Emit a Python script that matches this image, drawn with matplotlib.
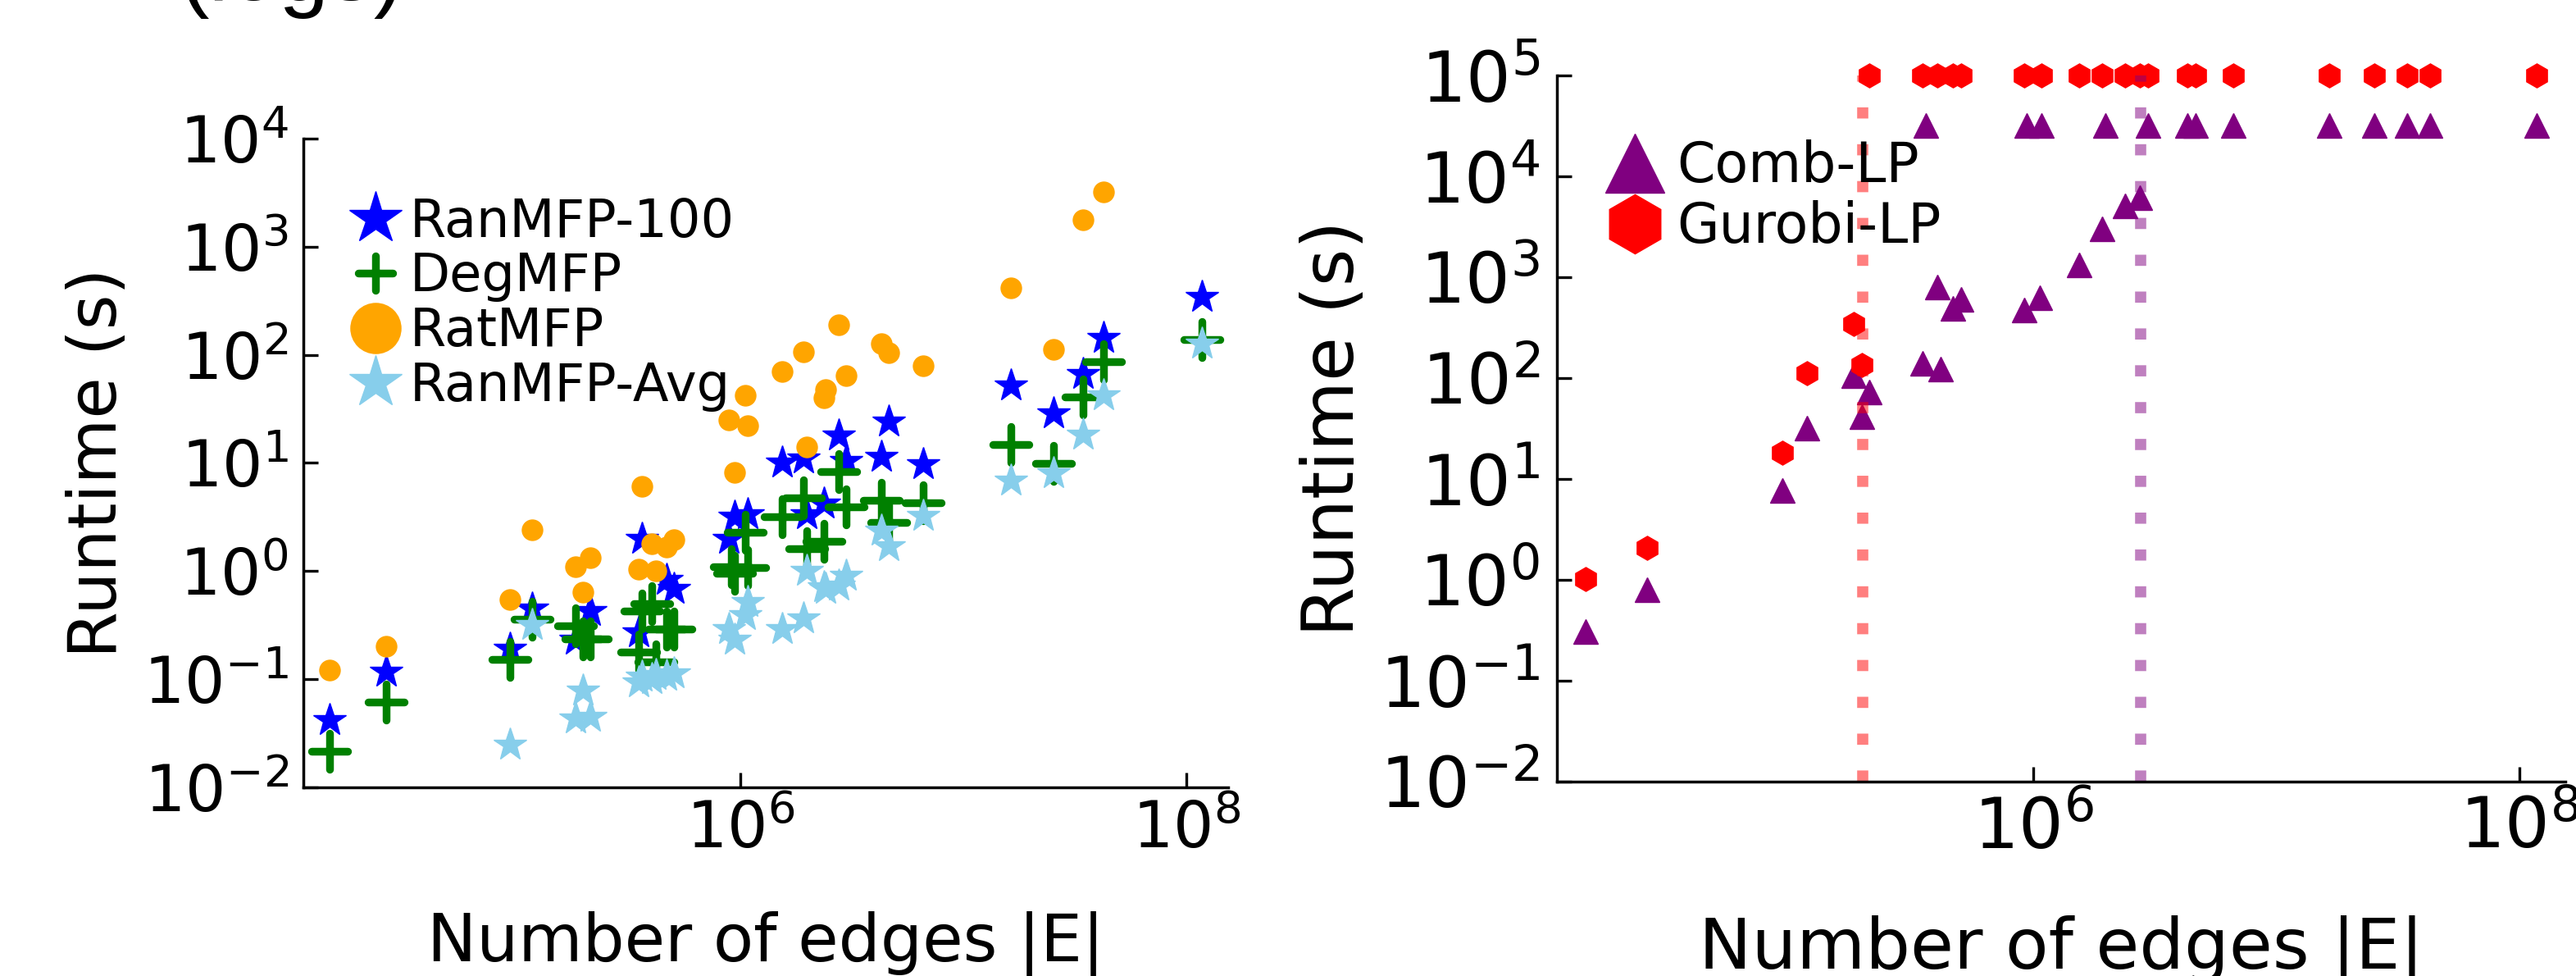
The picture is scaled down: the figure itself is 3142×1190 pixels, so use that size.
import matplotlib
matplotlib.use('Agg')
import matplotlib.pyplot as plt
from matplotlib.lines import Line2D
from matplotlib.markers import MarkerStyle
from matplotlib.ticker import LogLocator, NullLocator, FixedLocator

# ---- left panel: runtime of the MFP variants ----
ran100_edges = [14400, 25900, 92900, 117000, 182000, 212000, 350000, 362000, 467000, 503000,
                890000, 942000, 1.08e6, 1.54e6, 1.92e6, 1.98e6, 2.38e6, 2.75e6, 2.97e6,
                4.30e6, 4.64e6, 6.63e6, 1.64e7, 2.53e7, 3.45e7, 4.26e7, 1.17e8]
ran100_time = [0.042, 0.117, 0.19, 0.45, 0.23, 0.43, 0.27, 1.98, 0.83, 0.69,
               2.0, 3.2, 3.35, 10.1, 11.1, 3.35, 4.2, 18.1, 10.4,
               11.4, 24.3, 9.8, 51.8, 29, 67, 144, 344]

deg_edges = [14400, 25900, 92900, 117000, 182000, 197000, 212000, 350000, 362000, 402000,
             417000, 467000, 503000, 915000, 942000, 1.05e6, 1.08e6, 1.54e6, 1.92e6, 1.98e6,
             2.38e6, 2.75e6, 2.97e6, 4.30e6, 4.64e6, 6.63e6, 1.64e7, 2.53e7, 3.45e7, 4.26e7, 1.17e8]
deg_time = [0.0214, 0.061, 0.153, 0.36, 0.31, 0.236, 0.236, 0.177, 0.43, 0.50,
            0.144, 0.29, 0.29, 1.1, 0.96, 2.29, 1.07, 3.16, 4.75, 1.62,
            1.89, 8.3, 3.95, 4.48, 2.84, 4.28, 14.8, 9.95, 41, 86, 138]

rat_edges = [14400, 25900, 92900, 117000, 182000, 197000, 212000, 350000, 362000, 402000,
             417000, 467000, 503000, 890000, 942000, 1.05e6, 1.08e6, 1.54e6, 1.92e6, 1.98e6,
             2.38e6, 2.42e6, 2.75e6, 2.97e6, 4.30e6, 4.64e6, 6.63e6, 1.64e7, 2.53e7, 3.45e7, 4.26e7]
rat_time = [0.122, 0.203, 0.55, 2.4, 1.1, 0.64, 1.34, 1.04, 6.1, 1.8,
            1.01, 1.68, 1.95, 25, 8.2, 42, 22, 70, 106, 14,
            40, 47.5, 189, 64, 128, 104, 79, 417, 113, 1760, 3230]

avg_edges = [92900, 117000, 182000, 197000, 212000, 350000, 362000, 402000, 417000, 467000,
             503000, 890000, 942000, 1.05e6, 1.08e6, 1.54e6, 1.92e6, 1.98e6, 2.38e6, 2.42e6,
             2.75e6, 2.97e6, 4.30e6, 4.64e6, 6.63e6, 1.64e7, 2.53e7, 3.45e7, 4.26e7, 1.17e8]
avg_time = [0.025, 0.32, 0.0435, 0.078, 0.045, 0.093, 0.105, 0.10, 0.11, 0.108,
            0.114, 0.29, 0.23, 0.39, 0.52, 0.29, 0.366, 1.0, 0.71, 0.69,
            0.74, 0.90, 2.36, 1.71, 3.25, 6.9, 8.0, 18.2, 42.3, 128]

# ---- right panel: LP solvers ----
comb_edges = [14400, 25900, 92900, 117000, 182000, 197000, 212000, 350000, 402000, 417000,
              467000, 503000, 915000, 1.06e6, 1.54e6, 1.92e6, 2.38e6, 2.75e6,
              362000, 942000, 1.08e6, 1.98e6, 2.97e6, 4.30e6, 4.64e6, 6.63e6,
              1.64e7, 2.53e7, 3.45e7, 4.26e7, 1.17e8]
comb_time = [0.31, 0.80, 7.7, 31.8, 106, 41.7, 73, 140, 800, 122,
             493, 598, 477, 625, 1330, 3000, 5140, 6170,
             3.2e4, 3.2e4, 3.2e4, 3.2e4, 3.2e4, 3.2e4, 3.2e4, 3.2e4,
             3.2e4, 3.2e4, 3.2e4, 3.2e4, 3.2e4]

gurobi_edges = [14400, 25900, 92900, 117000, 182000, 197000,
                212000, 350000, 402000, 467000, 503000, 915000, 1.08e6, 1.54e6, 1.92e6,
                2.38e6, 2.75e6, 2.97e6, 4.30e6, 4.64e6, 6.63e6, 1.64e7, 2.53e7, 3.45e7,
                4.26e7, 1.17e8]
gurobi_time = [1.02, 2.06, 18.2, 111, 346, 134,
               1e5, 1e5, 1e5, 1e5, 1e5, 1e5, 1e5, 1e5, 1e5,
               1e5, 1e5, 1e5, 1e5, 1e5, 1e5, 1e5, 1e5, 1e5,
               1e5, 1e5]

# largest graph each solver still finishes on
gurobi_limit = 1.99e5
comb_limit = 2.77e6

x_range = (1.1e4, 1.54e8)


def style_axis(ax, ylim, tick_fs, xpad, ypad):
    ax.set_xscale('log')
    ax.set_yscale('log')
    ax.set_xlim(*x_range)
    ax.set_ylim(*ylim)
    ax.xaxis.set_major_locator(FixedLocator([1e6, 1e8]))
    ax.xaxis.set_minor_locator(NullLocator())
    ax.yaxis.set_major_locator(LogLocator(base=10, numticks=20))
    ax.yaxis.set_minor_locator(NullLocator())
    for side in ['top', 'right']:
        ax.spines[side].set_visible(False)
    for side in ['left', 'bottom']:
        ax.spines[side].set_linewidth(2.5)
    ax.tick_params(axis='both', direction='in', length=13, width=2.4, labelsize=tick_fs)
    ax.tick_params(axis='x', pad=xpad)
    ax.tick_params(axis='y', pad=ypad)


fig = plt.figure(figsize=(31.42, 11.90), dpi=100)

# left panel
ax1 = fig.add_axes([0.1178, 0.1933, 0.3590, 0.6647])
plus = MarkerStyle('+', capstyle='round')
ax1.plot(ran100_edges, ran100_time, ls='none', marker='*', ms=30, color='blue', clip_on=False)
ax1.plot(deg_edges, deg_time, ls='none', marker=plus, ms=31, mew=6.8, color='green', clip_on=False)
ax1.plot(rat_edges, rat_time, ls='none', marker='o', ms=18, color='orange', clip_on=False)
ax1.plot(avg_edges, avg_time, ls='none', marker='*', ms=30, color='skyblue', clip_on=False)
style_axis(ax1, (1e-2, 1e4), 56, 10, 13)
ax1.set_xlabel('Number of edges |E|', fontsize=58)
ax1.set_ylabel('Runtime (s)', fontsize=59)
ax1.xaxis.set_label_coords(0.5, -0.19)
ax1.yaxis.set_label_coords(-0.187, 0.5)

handles1 = [
    Line2D([], [], ls='none', marker='*', ms=48, color='blue', label='RanMFP-100'),
    Line2D([], [], ls='none', marker=plus, ms=30, mew=6.8, color='green', label='DegMFP'),
    Line2D([], [], ls='none', marker='o', ms=44, color='orange', label='RatMFP'),
    Line2D([], [], ls='none', marker='*', ms=48, color='skyblue', label='RanMFP-Avg'),
]
ax1.legend(handles=handles1, loc='upper left', bbox_to_anchor=(0.0496, 0.9106),
           frameon=False, fontsize=46, handlelength=1.0, handletextpad=0.15,
           labelspacing=0.073, borderpad=0, borderaxespad=0)

# right panel
ax2 = fig.add_axes([0.6044, 0.1992, 0.3915, 0.7235])
ax2.plot(comb_edges, comb_time, ls='none', marker='^', ms=22, color='purple', clip_on=False)
ax2.plot(gurobi_edges, gurobi_time, ls='none', marker='h', ms=21, color='red', clip_on=False)
ax2.axvline(gurobi_limit, color='red', alpha=0.5, lw=9.8, ls=(0, (1.0, 2.3)))
ax2.axvline(comb_limit, color='purple', alpha=0.5, lw=9.8, ls=(0, (1.0, 2.3)))
style_axis(ax2, (1e-2, 1e5), 62, 12, 15)
ax2.set_xlabel('Number of edges |E|', fontsize=62)
ax2.set_ylabel('Runtime (s)', fontsize=63)
ax2.xaxis.set_label_coords(0.5, -0.189)
ax2.yaxis.set_label_coords(-0.187, 0.5)

handles2 = [
    Line2D([], [], ls='none', marker='^', ms=52, color='purple', label='Comb-LP'),
    Line2D([], [], ls='none', marker='h', ms=52, color='red', label='Gurobi-LP'),
]
ax2.legend(handles=handles2, loc='upper left', bbox_to_anchor=(0.0502, 0.9094),
           frameon=False, fontsize=48, handlelength=1.0, handletextpad=0.27,
           labelspacing=0.124, borderpad=0, borderaxespad=0)

# bottom of a caption that is cut off by the top edge: only the descenders show
fig.text(218 / 3142, 1.0, '(logs)', fontsize=79, family='Liberation Sans',
         va='baseline', ha='left')

fig.savefig('out.png', dpi=100)
